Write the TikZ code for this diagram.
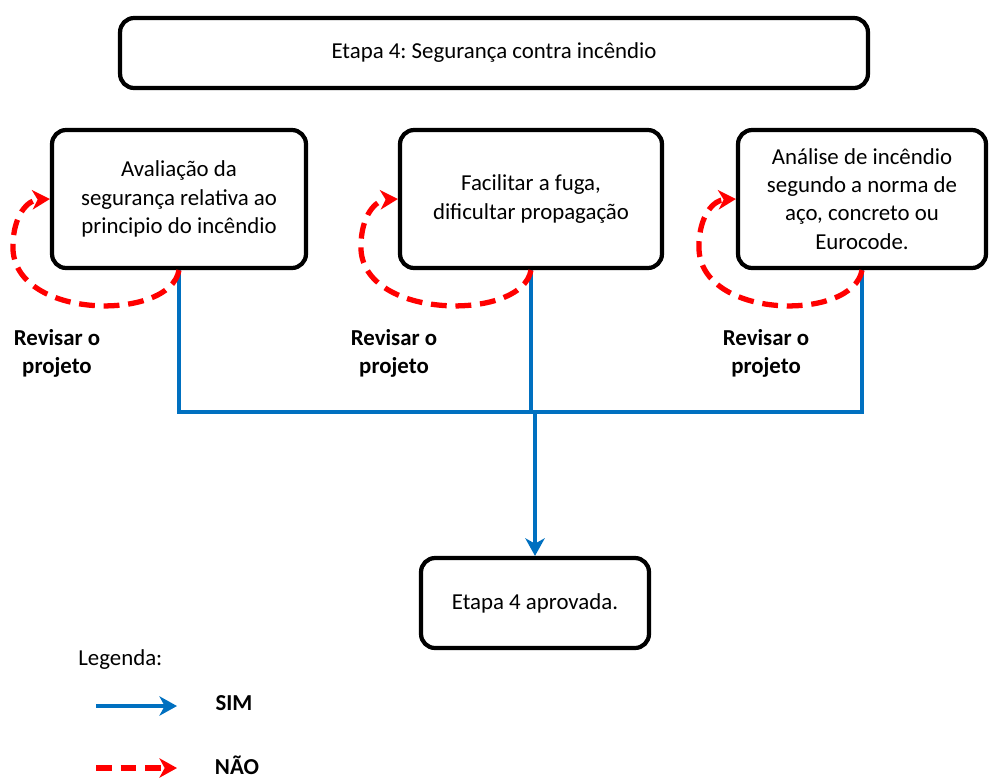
\documentclass[tikz,border=0pt]{standalone}
\usepackage{fontspec}
\setmainfont{Carlito}
\usetikzlibrary{arrows.meta}
\definecolor{simazul}{RGB}{0,112,192}
\frenchspacing

\begin{document}
\begin{tikzpicture}[x=0.02cm, y=-0.02cm,
    caixa/.style={draw, line width=2.4pt, rounded corners=8pt, align=center,
      font=\fontsize{13}{16}\selectfont},
    sim/.style={line width=2.3pt, color=simazul},
    nao/.style={line width=3pt, color=red, dash pattern=on 9pt off 5pt},
    ponta/.style={-{Stealth[length=10pt, width=11pt, inset=3pt]}},
    rotulo/.style={align=center, font=\fontsize{13}{16}\selectfont\bfseries}]
      \useasboundingbox (0,0) rectangle (989,782);

      % caixas
      \node[caixa, minimum width=14.96cm, minimum height=1.4cm] (topo) at (494,53)
        {Etapa 4: Segurança contra incêndio};
      \node[caixa, minimum width=5.08cm, minimum height=2.76cm] (b1) at (179,199)
        {Avaliação da\\segurança relativa ao\\principio do incêndio};
      \node[caixa, minimum width=5.24cm, minimum height=2.76cm] (b2) at (531,199)
        {Facilitar a fuga,\\dificultar propagação};
      \node[caixa, minimum width=4.96cm, minimum height=2.76cm] (b3) at (862,199)
        {Análise de incêndio\\segundo a norma de\\aço, concreto ou\\Eurocode.};
      \node[caixa, minimum width=4.56cm, minimum height=1.8cm] (fim) at (535,603)
        {Etapa 4 aprovada.};

      % caminho SIM
      \coordinate (j) at (531,412);
      \draw[sim] (b1.south) |- (j);
      \draw[sim] (b3.south) |- (j);
      \draw[sim] (b2.south) -- (j);
      \draw[sim, ponta] (fim.north |- j) -- (fim.north);

      % caminho NAO
      \foreach \b in {b1,b2,b3} {
        \draw[nao, ponta] (\b.south)
          .. controls ([shift={(-9,52)}]\b.south) and ([shift={(-37,121)}]\b.west)
          .. ([shift={(-37,48)}]\b.west)
          .. controls ([shift={(-37,16)}]\b.west) and ([shift={(-22,1)}]\b.west)
          .. (\b.west);
      }

      \node[rotulo] (r1) at (57,353) {Revisar o\\projeto};
      \node[rotulo] (r2) at (394,353) {Revisar o\\projeto};
      \node[rotulo] (r3) at (766,353) {Revisar o\\projeto};

      % legenda
      \node[right, inner sep=0pt, font=\fontsize{13}{16}\selectfont] (leg) at (78,660) {Legenda:};
      \coordinate (s0) at (96,706);
      \coordinate (s1) at (177,706);
      \coordinate (n0) at (96,768);
      \coordinate (n1) at (177,768);
      \draw[sim, ponta] (s0) -- (s1);
      \draw[nao, ponta] (n0) -- (n1);
      \node[rotulo] (lsim) at (234,703) {SIM};
      \node[rotulo] (lnao) at (237,765) {NÃO};
\end{tikzpicture}
\end{document}
